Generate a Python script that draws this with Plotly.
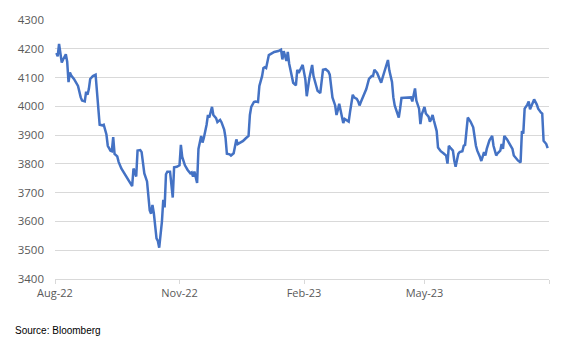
import pandas as pd
import plotly.graph_objects as go

START = "2022-08-01"

# trading-day offsets (days after START)
day_offsets = [
    1, 2, 3, 4, 5, 6, 8, 9, 10, 11, 12, 14, 16, 17, 19, 20, 22, 23, 24, 25,
    26, 28, 30, 31, 33, 35, 36, 38, 39, 41, 42, 43, 44, 46, 47, 49, 53, 57, 58, 60,
    61, 63, 64, 66, 68, 70, 71, 72, 73, 75, 76, 77, 79, 80, 81, 82, 83, 85, 86, 87,
    88, 90, 92, 93, 94, 96, 98, 100, 101, 102, 103, 104, 105, 106, 108, 109, 110, 112, 113, 114,
    116, 117, 119, 120, 122, 123, 125, 126, 127, 129, 130, 132, 134, 135, 137, 139, 141, 143, 144, 145,
    147, 148, 150, 151, 153, 154, 155, 156, 158, 160, 162, 165, 167, 168, 169, 171, 172, 173, 175, 176,
    178, 179, 180, 182, 183, 185, 186, 188, 189, 190, 191, 193, 194, 196, 198, 200, 202, 203, 204, 205,
    207, 208, 209, 210, 212, 213, 214, 215, 217, 218, 220, 221, 223, 224, 225, 226, 228, 230, 232, 234,
    235, 236, 238, 239, 241, 242, 244, 246, 247, 249, 250, 251, 253, 254, 255, 256, 258, 261, 263, 264,
    265, 266, 267, 269, 270, 271, 273, 274, 276, 277, 278, 279, 280, 282, 283, 284, 285, 287, 289, 290,
    291, 292, 294, 295, 296, 298, 299, 301, 302, 303, 305, 307, 309, 311, 312, 314, 315, 317, 318, 319,
    321, 323, 324, 326, 327, 329, 330, 331, 332, 334, 336, 338, 339, 341, 342, 344, 345, 346, 347, 349,
    350, 351, 353, 354, 356, 357, 359, 360, 361, 363, 364,
]

index_values = [
    4185, 4174, 4217, 4183, 4152, 4163, 4181, 4155, 4084, 4118, 4107, 4095, 4076, 4071, 4031, 4020, 4017, 4051, 4040, 4060,
    4095, 4105, 4110, 4048, 3936, 3934, 3936, 3902, 3863, 3846, 3844, 3893, 3835, 3826, 3807, 3784, 3751, 3723, 3784, 3756,
    3846, 3848, 3841, 3767, 3739, 3638, 3627, 3657, 3630, 3541, 3532, 3509, 3599, 3675, 3649, 3764, 3773, 3773, 3728, 3683,
    3788, 3790, 3795, 3866, 3824, 3795, 3779, 3767, 3770, 3756, 3773, 3751, 3734, 3852, 3897, 3874, 3891, 3936, 3970, 3961,
    3998, 3970, 3959, 3945, 3953, 3945, 3919, 3891, 3835, 3833, 3829, 3837, 3885, 3869, 3874, 3880, 3889, 3897, 3970, 3998,
    4015, 4017, 4015, 4071, 4105, 4133, 4136, 4133, 4178, 4185, 4189, 4192, 4197, 4163, 4192, 4158, 4189, 4149, 4099, 4082,
    4073, 4127, 4116, 4136, 4144, 4093, 4035, 4099, 4127, 4144, 4105, 4065, 4054, 4046, 4127, 4129, 4121, 4110, 4060, 4031,
    4003, 3970, 3987, 4009, 3964, 3942, 3956, 3953, 3947, 3981, 4040, 4031, 4026, 4017, 4003, 4015, 4037, 4060, 4095, 4105,
    4105, 4127, 4116, 4105, 4082, 4099, 4133, 4161, 4125, 4085, 4031, 4003, 3975, 3961, 3992, 4029, 4030, 4031, 4031, 4017,
    4040, 4062, 4020, 3992, 3938, 3972, 3998, 3975, 3964, 3947, 3956, 3970, 3950, 3914, 3857, 3848, 3844, 3837, 3829, 3801,
    3863, 3857, 3846, 3812, 3790, 3835, 3841, 3844, 3863, 3866, 3961, 3947, 3927, 3863, 3846, 3824, 3810, 3841, 3829, 3852,
    3882, 3897, 3863, 3829, 3837, 3846, 3869, 3852, 3897, 3885, 3869, 3852, 3829, 3818, 3812, 3805, 3914, 3905, 3992, 4006,
    4017, 3990, 4017, 4024, 4006, 3992, 3979, 3975, 3880, 3869, 3855,
]

tick_dates = ["2022-08-01", "2022-11-01", "2023-02-01", "2023-05-01", "2023-08-01"]
tick_labels = ["Aug-22", "Nov-22", "Feb-23", "May-23", ""]

dates = pd.to_datetime(START) + pd.to_timedelta(day_offsets, unit="D")

fig = go.Figure()
fig.add_trace(go.Scatter(
    x=dates, y=index_values, mode="lines",
    line=dict(color="#4472C4", width=2.5),
    showlegend=False, hoverinfo="skip",
))

grey = "#595959"
gridc = "#D9D9D9"
fig.update_layout(
    width=586, height=344,
    margin=dict(l=55, r=37, t=12, b=65),
    paper_bgcolor="white", plot_bgcolor="white",
    font=dict(family="Open Sans, Liberation Sans, sans-serif", size=11, color=grey),
)
fig.update_xaxes(
    range=["2022-08-01", "2023-08-01"],
    tickmode="array", tickvals=tick_dates, ticktext=tick_labels,
    showgrid=False, showline=True, linecolor=gridc, linewidth=1,
    ticks="outside", ticklen=4, tickcolor=gridc,
    tickfont=dict(size=11, color=grey),
)
fig.update_yaxes(
    range=[3400, 4300], dtick=100, tick0=3400,
    showgrid=True, gridcolor=gridc, gridwidth=1,
    zeroline=False, showline=False, ticks="",
    ticklabelstandoff=10,
    tickfont=dict(size=11.5, color=grey),
)
fig.add_annotation(
    text="Source: Bloomberg", xref="paper", yref="paper",
    x=-42/494, y=-53/267, xanchor="left", yanchor="middle",
    showarrow=False, font=dict(family="Liberation Sans, Arial, sans-serif", size=10, color="black"),
)
fig.write_html("out.html")
